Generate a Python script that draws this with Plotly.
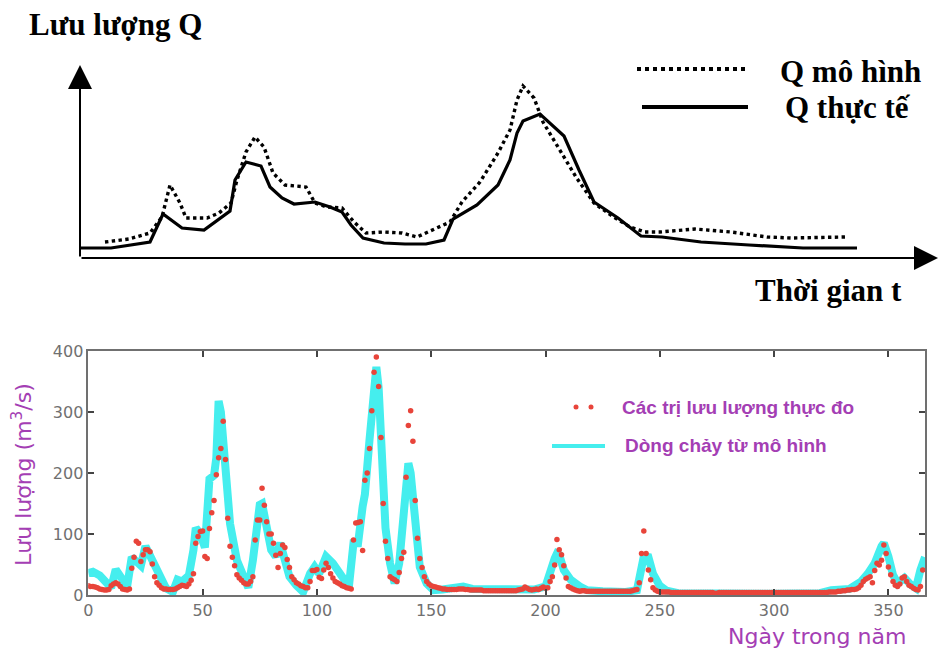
import plotly.graph_objects as go

# ---------------- top schematic (arbitrary units) ----------------
t_real = [1, 31, 70, 83, 102, 124, 150, 155, 166, 181, 190, 202, 214, 235, 250, 262, 271, 283, 304, 325,
          346, 364, 373, 397, 418, 430, 437, 443, 460, 484, 499, 514, 538, 561, 582, 621, 669, 723, 777]
q_real = [10, 10, 16, 44, 30, 28, 47, 78, 96, 92, 71, 60, 54, 56, 51, 46, 33, 20, 15, 14,
          14, 18, 39, 53, 73, 98, 125, 137, 144, 122, 88, 56, 40, 22, 21, 16, 13, 10, 10]
t_model = [25, 49, 70, 82, 90, 100, 106, 127, 139, 151, 157, 166, 175, 184, 193, 205, 226, 235, 247, 262,
           274, 286, 304, 322, 337, 352, 370, 382, 400, 418, 430, 437, 443, 454, 463, 478, 496, 514, 532, 550,
           565, 580, 615, 651, 687, 711, 765]
q_model = [16, 19, 25, 41, 73, 55, 40, 40, 45, 55, 78, 106, 121, 111, 85, 73, 71, 55, 51, 50,
           36, 25, 26, 25, 21, 28, 36, 56, 76, 105, 128, 158, 172, 160, 136, 111, 81, 55, 42, 31,
           26, 26, 29, 26, 21, 20, 21]

# ---------------- bottom chart: daily observed discharge (m3/s) ----------------
obs_d0_18 = [15, 14, 14, 13, 12, 10, 9, 8, 8, 9, 15, 18, 20, 18, 14, 10, 9, 8, 10]
obs_d19_30 = [44, 62, 88, 85, 55, 66, 74, 74, 71, 51, 30, 20]
obs_d31_46 = [16, 12, 10, 10, 9, 9, 9, 10, 12, 14, 16, 15, 14, 18, 24, 35]
obs_d47_62 = [85, 96, 104, 105, 63, 60, 109, 135, 155, 197, 225, 240, 285, 222, 126, 80]
obs_d63_72 = [62, 48, 33, 28, 24, 20, 18, 18, 22, 30]
obs_d73_91 = [90, 123, 123, 175, 147, 120, 100, 100, 85, 65, 45, 68, 82, 78, 58, 45, 30, 25, 20]
obs_d92_115 = [18, 15, 14, 12, 12, 22, 40, 40, 42, 29, 27, 41, 52, 45, 35, 28, 22, 20, 18, 15, 14, 12, 11, 10]
obs_d116_132 = [90, 118, 119, 120, 73, 188, 200, 240, 302, 365, 390, 342, 258, 150, 88, 60, 30]
obs_d133_150 = [27, 25, 22, 37, 60, 70, 193, 278, 302, 252, 155, 93, 60, 45, 30, 22, 18, 15]
obs_d151_199 = [14, 13, 12, 11, 10, 10, 9, 9, 9, 9, 9, 10, 10, 10, 9, 9, 8, 8, 8, 8,
                8, 8, 7, 7, 7, 7, 7, 7, 7, 7, 7, 7, 7, 7, 7, 7, 7, 8, 9, 10,
                13, 11, 9, 8, 9, 10, 9, 11, 13]
obs_d200_215 = [11, 12, 22, 30, 49, 91, 74, 66, 48, 28, 14, 12, 10, 8, 7, 6]
obs_d216_240 = [7, 7, 6, 6, 6, 6, 6, 6, 6, 6, 6, 6, 6, 6, 6, 6, 6, 6, 6, 6, 6, 6, 7, 8, 9]
obs_d241_250 = [20, 68, 105, 68, 41, 25, 12, 8, 6, 5]
obs_d251_325 = [5, 5, 5, 5, 4, 4, 4, 4, 4, 4,
                4, 4, 4, 4, 4, 4, 4, 4, 4, 4,
                4, 4, 4, 3, 3, 4, 4, 4, 4, 4,
                4, 4, 4, 4, 4, 4, 4, 4, 4, 4,
                4, 4, 4, 4, 4, 4, 4, 4, 4, 4,
                4, 4, 4, 4, 4, 4, 4, 4, 4, 4,
                4, 4, 4, 4, 4, 4, 4, 4, 4, 4,
                4, 4, 4, 5, 5]
obs_d326_365 = [5, 5, 6, 6, 7, 7, 8, 8, 9, 9, 10, 12, 16, 22, 26, 28, 30, 20, 40, 52,
                49, 57, 82, 68, 46, 33, 22, 16, 14, 18, 28, 30, 22, 16, 14, 11, 9, 8, 14, 41]

observed = (obs_d0_18 + obs_d19_30 + obs_d31_46 + obs_d47_62 + obs_d63_72 + obs_d73_91 + obs_d92_115
            + obs_d116_132 + obs_d133_150 + obs_d151_199 + obs_d200_215 + obs_d216_240 + obs_d241_250
            + obs_d251_325 + obs_d326_365)
obs_days = list(range(len(observed)))

# simulated discharge (vertices of the model curve)
sim_days = [0, 2, 5, 8, 10, 12, 14, 17, 19, 21, 23, 25, 28, 31, 34, 37, 39, 41, 44, 46,
            47, 49, 51, 53, 55, 56, 57, 58, 59, 60, 62, 65, 68, 70, 72, 74, 75, 76, 78, 80,
            82, 84, 86, 88, 91, 94, 97, 99, 101, 104, 107, 110, 114, 116, 118, 120, 121, 123, 125, 126,
            127, 128, 129, 130, 132, 134, 136, 138, 140, 141, 143, 145, 148, 151, 155, 160, 164, 168, 175, 185,
            195, 200, 202, 204, 205, 206, 208, 211, 215, 218, 225, 235, 240, 242, 243, 245, 247, 250, 253, 258,
            270, 300, 320, 325, 333, 338, 341, 344, 347, 348, 350, 352, 354, 357, 360, 362, 364, 366]
sim_vals = [36, 38, 32, 20, 12, 42, 32, 14, 62, 56, 48, 80, 58, 30, 11, 5, 25, 22, 32, 74,
            110, 100, 78, 190, 196, 225, 318, 300, 254, 178, 117, 57, 25, 12, 57, 128, 148, 150, 112, 74,
            63, 85, 57, 30, 16, 5, 35, 46, 35, 63, 52, 35, 14, 85, 85, 145, 165, 254, 325, 374,
            340, 280, 189, 110, 52, 19, 52, 130, 216, 200, 107, 46, 19, 8, 9, 10, 14, 10, 9, 8,
            9, 14, 41, 60, 68, 66, 41, 25, 14, 8, 6, 5, 8, 55, 63, 62, 35, 15, 7, 3,
            2, 2, 3, 8, 10, 22, 35, 52, 80, 85, 63, 33, 19, 28, 16, 11, 41, 62]

x_ticks = [0, 50, 100, 150, 200, 250, 300, 350]
y_ticks = [0, 100, 200, 300, 400]

W, H = 940, 651
PURPLE = "#A43EB4"
RED = "#E8443A"
CYAN = "#45EEEE"
SERIF = "Liberation Serif"


def px(x):
    return x / W


def py(y):
    return 1 - y / H


fig = go.Figure()

# top schematic curves
fig.add_trace(go.Scatter(x=t_model, y=q_model, mode="lines", xaxis="x", yaxis="y",
                         line=dict(color="black", width=3.4, dash="dot"), hoverinfo="skip"))
fig.add_trace(go.Scatter(x=t_real, y=q_real, mode="lines", xaxis="x", yaxis="y",
                         line=dict(color="black", width=3.2), hoverinfo="skip"))

# bottom chart
fig.add_trace(go.Scatter(x=sim_days, y=sim_vals, mode="lines", xaxis="x2", yaxis="y2",
                         line=dict(color=CYAN, width=8), hoverinfo="skip"))
fig.add_trace(go.Scatter(x=obs_days, y=observed, mode="markers", xaxis="x2", yaxis="y2",
                         marker=dict(color=RED, size=5.5, line=dict(width=0)), hoverinfo="skip"))

annotations = []
# top axis arrows
annotations.append(dict(x=858, y=0, ax=0, ay=0, xref="x", yref="y", axref="x", ayref="y",
                        text="", showarrow=True, arrowhead=2, arrowsize=2.4, arrowwidth=2,
                        arrowcolor="black", standoff=0))
annotations.append(dict(x=0, y=193, ax=0, ay=0, xref="x", yref="y", axref="x", ayref="y",
                        text="", showarrow=True, arrowhead=2, arrowsize=2.4, arrowwidth=2,
                        arrowcolor="black", standoff=0))

top_font = dict(family=SERIF, size=31, color="black")
annotations += [
    dict(x=px(27), y=py(25), xref="paper", yref="paper", text="<b>Lưu lượng Q</b>",
         showarrow=False, xanchor="left", yanchor="middle", font=top_font),
    dict(x=px(778), y=py(72), xref="paper", yref="paper", text="<b>Q mô hình</b>",
         showarrow=False, xanchor="left", yanchor="middle", font=top_font),
    dict(x=px(783), y=py(107), xref="paper", yref="paper", text="<b>Q thực tế</b>",
         showarrow=False, xanchor="left", yanchor="middle", font=top_font),
    dict(x=px(753), y=py(291), xref="paper", yref="paper", text="<b>Thời gian t</b>",
         showarrow=False, xanchor="left", yanchor="middle", font=top_font),
]

# bottom titles & legend text
annotations += [
    dict(x=px(22), y=py(475), xref="paper", yref="paper", text="Lưu lượng (m<sup>3</sup>/s)",
         showarrow=False, textangle=-90, xanchor="center", yanchor="middle",
         font=dict(family="DejaVu Sans", size=22, color=PURPLE)),
    dict(x=px(817), y=py(636), xref="paper", yref="paper", text="Ngày trong năm",
         showarrow=False, xanchor="center", yanchor="middle",
         font=dict(family="DejaVu Sans", size=22, color=PURPLE)),
    dict(x=px(620), y=py(408), xref="paper", yref="paper", text="<b>Các trị lưu lượng thực đo</b>",
         showarrow=False, xanchor="left", yanchor="middle",
         font=dict(family="Liberation Sans", size=19, color=PURPLE)),
    dict(x=px(623), y=py(445), xref="paper", yref="paper", text="<b>Dòng chảy từ mô hình</b>",
         showarrow=False, xanchor="left", yanchor="middle",
         font=dict(family="Liberation Sans", size=19, color=PURPLE)),
]

shapes = [
    # top legend samples
    dict(type="line", xref="paper", yref="paper", x0=px(637), x1=px(748), y0=py(69), y1=py(69),
         line=dict(color="black", width=4, dash="dot")),
    dict(type="line", xref="paper", yref="paper", x0=px(642), x1=px(748), y0=py(107), y1=py(107),
         line=dict(color="black", width=4)),
    # bottom legend samples
    dict(type="line", xref="paper", yref="paper", x0=px(552), x1=px(605), y0=py(446), y1=py(446),
         line=dict(color=CYAN, width=4)),
    dict(type="circle", xref="paper", yref="paper", x0=px(573.5), x1=px(578.5), y0=py(404.5), y1=py(409.5),
         fillcolor=RED, line=dict(width=0)),
    dict(type="circle", xref="paper", yref="paper", x0=px(588.5), x1=px(593.5), y0=py(404.5), y1=py(409.5),
         fillcolor=RED, line=dict(width=0)),
]

tick_font = dict(family="DejaVu Sans", size=16, color="#707070")

fig.update_layout(
    width=W, height=H,
    margin=dict(l=0, r=0, t=0, b=0, pad=0, autoexpand=False),
    paper_bgcolor="white", plot_bgcolor="white",
    showlegend=False,
    annotations=annotations,
    shapes=shapes,
    xaxis=dict(domain=[px(80), 1.0], range=[0, 860], anchor="y", visible=False, fixedrange=True),
    yaxis=dict(domain=[py(258), py(62)], range=[0, 196], anchor="x", visible=False, fixedrange=True),
    xaxis2=dict(domain=[px(88.3), px(925)], range=[0, 366], anchor="y2",
                tickvals=x_ticks, ticktext=[str(v) for v in x_ticks],
                ticks="inside", ticklen=6, tickwidth=2, tickcolor="#444",
                showline=True, linecolor="#707070", linewidth=1.5, mirror="ticks",
                showgrid=False, zeroline=False, tickfont=tick_font, automargin=False),
    yaxis2=dict(domain=[py(595), py(351)], range=[0, 400], anchor="x2",
                tickvals=y_ticks, ticktext=[str(v) for v in y_ticks],
                ticks="inside", ticklen=6, tickwidth=2, tickcolor="#444",
                showline=True, linecolor="#707070", linewidth=1.5, mirror="ticks",
                showgrid=False, zeroline=False, tickfont=tick_font, automargin=False),
)

fig.write_html("out.html")
